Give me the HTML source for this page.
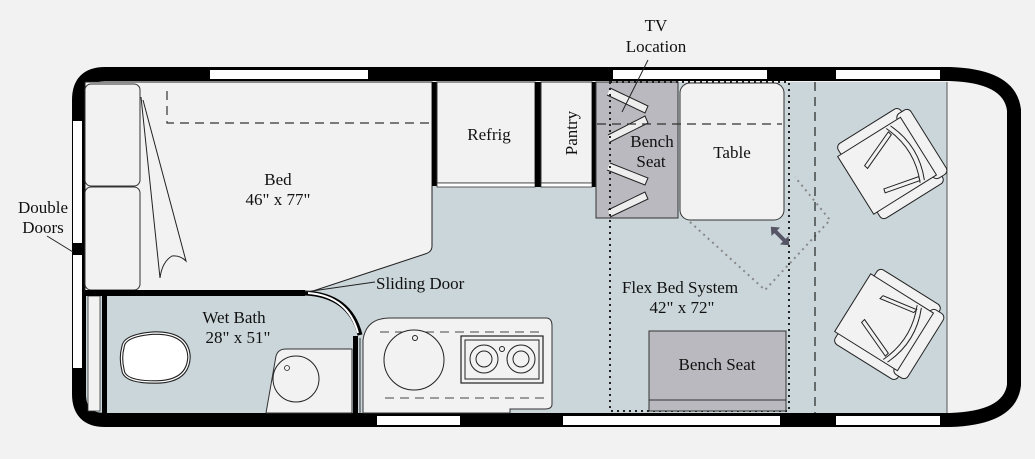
<!DOCTYPE html>
<html><head><meta charset="utf-8"><style>
html,body{margin:0;padding:0;background:#f2f2f2;}
svg{display:block}
text{font-family:"Liberation Serif",serif;font-size:17px;fill:#111;}
</style></head><body>
<svg width="1035" height="459" viewBox="0 0 1035 459" xmlns="http://www.w3.org/2000/svg">
<rect width="1035" height="459" fill="#f2f2f2"/>
<rect x="85" y="82" width="862" height="331" fill="#cbd6da"/>
<rect x="947" y="82" width="60" height="331" fill="#f2f2f2"/>
<line x1="947" y1="82" x2="947" y2="413" stroke="#555" stroke-width="1"/>
<path d="M105,74 L950,74 Q1010,76 1014,110 L1014,385 Q1010,418 950,420 L105,420 Q79,420 79,394 L79,100 Q79,74 105,74 Z" fill="none" stroke="#000" stroke-width="14"/>
<g fill="#fff">
<rect x="210" y="70" width="158" height="9"/>
<rect x="613" y="70" width="154" height="9"/>
<rect x="836" y="70" width="104" height="9"/>
<rect x="377" y="416" width="83" height="9"/>
<rect x="563" y="416" width="217" height="9"/>
<rect x="836" y="416" width="104" height="9"/>
<rect x="73" y="121" width="9" height="122"/>
<rect x="73" y="255" width="9" height="113"/>
</g>
<path d="M85,82 L432,82 L432,246 Q432,252 425,254 L310,292 L85,292 Z" fill="#f2f2f2" stroke="#222" stroke-width="1"/>
<rect x="85" y="84" width="55" height="102" rx="6" fill="#f2f2f2" stroke="#333" stroke-width="1"/>
<rect x="85" y="187" width="55" height="103" rx="6" fill="#f2f2f2" stroke="#333" stroke-width="1"/>
<path d="M167,91 L167,123 L432,123" fill="none" stroke="#333" stroke-width="1.2" stroke-dasharray="9,6"/>
<path d="M141,97 L160,278 Q162,262 172,256 Q180,255 186,261 L143,100" fill="#f2f2f2" stroke="#222" stroke-width="1"/>
<rect x="432" y="82" width="5" height="104" fill="#000"/>
<rect x="437" y="82" width="98" height="101" fill="#f2f2f2" stroke="#333" stroke-width="1"/>
<rect x="437" y="183" width="98" height="4" fill="#fff" stroke="#333" stroke-width="0.8"/>
<rect x="535" y="82" width="6" height="105" fill="#000"/>
<rect x="541" y="82" width="51" height="101" fill="#f2f2f2" stroke="#333" stroke-width="1"/>
<rect x="541" y="183" width="51" height="4" fill="#fff" stroke="#333" stroke-width="0.8"/>
<rect x="592" y="82" width="5" height="105" fill="#000"/>
<rect x="596" y="82" width="82" height="136" fill="#b9b9bf" stroke="#333" stroke-width="1"/>
<g stroke="#222" stroke-width="1" fill="#eee">
<path d="M610,88 L648,106 L645,113 L607,95" /><path d="M608,135 L645,116 L648,123 L610,142"/>
<path d="M610,163 L648,178 L645,185 L607,170"/><path d="M608,210 L645,192 L648,199 L610,217"/>
</g>
<rect x="680" y="83" width="104" height="137" rx="10" fill="#f2f2f2" stroke="#333" stroke-width="1"/>
<line x1="597" y1="124" x2="782" y2="124" stroke="#333" stroke-width="1.2" stroke-dasharray="9,6"/>
<line x1="648" y1="60" x2="622" y2="112" stroke="#222" stroke-width="1"/>
<rect x="610" y="82" width="179" height="329" fill="none" stroke="#222" stroke-width="2" stroke-dasharray="2,4"/>
<polyline points="690,222 765,290 830,220 795,177" fill="none" stroke="#888" stroke-width="2" stroke-dasharray="2,4"/>
<line x1="815" y1="82" x2="815" y2="413" stroke="#222" stroke-width="1.2" stroke-dasharray="9,6"/>
<g transform="translate(780,236) rotate(45)">
<path d="M-13,0 L-6,-6 L-6,-2 L6,-2 L6,-6 L13,0 L6,6 L6,2 L-6,2 L-6,6 Z" fill="#556"/>
</g>
<rect x="649" y="331" width="137" height="80" fill="#b9b9bf" stroke="#333" stroke-width="1"/>
<line x1="649" y1="400" x2="786" y2="400" stroke="#333" stroke-width="1"/>
<rect x="88" y="296" width="12" height="115" fill="#f2f2f2" stroke="#333" stroke-width="0.8"/>
<rect x="102" y="293" width="5" height="120" fill="#000"/>
<path d="M85,293 L305,293" stroke="#000" stroke-width="6"/>
<path d="M305,293 Q350,295 360,335" fill="none" stroke="#000" stroke-width="5"/>
<path d="M308,293 Q348,296 358,333" fill="none" stroke="#fff" stroke-width="2"/>
<rect x="353" y="336" width="5" height="77" fill="#000"/>
<line x1="360" y1="338" x2="360" y2="413" stroke="#333" stroke-width="1"/>
<line x1="305" y1="292" x2="375" y2="282" stroke="#222" stroke-width="1"/>
<path d="M266,413 L276,356 Q278,349 286,349 L352,349 L352,413 Z" fill="#f2f2f2" stroke="#333" stroke-width="1"/>
<circle cx="296" cy="379" r="23" fill="#f2f2f2" stroke="#222" stroke-width="1"/>
<circle cx="287" cy="368" r="2.5" fill="none" stroke="#222" stroke-width="0.8"/>
<path d="M123,347 Q124,335 155,333 Q188,333 189,357 Q188,382 155,382 Q124,382 123,370 Q120,358 123,347 Z" fill="#fff" stroke="#222" stroke-width="3.5"/>
<path d="M123,347 Q124,335 155,333 Q188,333 189,357 Q188,382 155,382 Q124,382 123,370 Q120,358 123,347 Z" fill="none" stroke="#fff" stroke-width="1.3"/>
<path d="M363,413 L363,340 Q366,318 390,318 L546,318 Q552,318 552,326 L552,404 Q552,409 545,409 L510,409 L510,413 Z" fill="#f2f2f2" stroke="#333" stroke-width="1"/>
<line x1="380" y1="332" x2="545" y2="332" stroke="#444" stroke-width="1" stroke-dasharray="9,6"/>
<line x1="385" y1="398" x2="545" y2="398" stroke="#444" stroke-width="1" stroke-dasharray="9,6"/>
<circle cx="414" cy="360" r="30" fill="#f2f2f2" stroke="#222" stroke-width="1"/>
<circle cx="415" cy="338" r="2.5" fill="none" stroke="#222"/>
<rect x="461" y="336" width="82" height="47" fill="#f2f2f2" stroke="#222" stroke-width="1.2"/>
<rect x="465" y="340" width="74" height="39" fill="none" stroke="#222" stroke-width="1"/>
<circle cx="484" cy="359" r="14" fill="none" stroke="#222"/><circle cx="484" cy="359" r="8" fill="none" stroke="#222"/>
<circle cx="521" cy="359" r="14" fill="none" stroke="#222"/><circle cx="521" cy="359" r="8" fill="none" stroke="#222"/>
<circle cx="502" cy="349" r="2.5" fill="none" stroke="#222"/>
<g transform="translate(893,162) rotate(-32)" stroke="#222" stroke-width="1" fill="#f2f2f2">
<rect x="-40" y="-44" width="74" height="14" rx="5"/>
<rect x="-40" y="30" width="74" height="14" rx="5"/>
<rect x="26" y="-38" width="16" height="76" rx="5"/>
<rect x="-44" y="-34" width="74" height="68"/>
<path d="M12,-32 Q26,0 12,32 M17,-32 Q31,0 17,32" fill="none"/>
<path d="M-26,-12 L12,-28 L13,-24 L-25,-8 Z"/>
<path d="M-22,18 L14,26 L13,30 L-23,22 Z"/>
</g>
<g transform="translate(890,326) rotate(32)" stroke="#222" stroke-width="1" fill="#f2f2f2">
<rect x="-40" y="-44" width="74" height="14" rx="5"/>
<rect x="-40" y="30" width="74" height="14" rx="5"/>
<rect x="26" y="-38" width="16" height="76" rx="5"/>
<rect x="-44" y="-34" width="74" height="68"/>
<path d="M12,-32 Q26,0 12,32 M17,-32 Q31,0 17,32" fill="none"/>
<path d="M-22,-22 L14,-28 L13,-24 L-23,-18 Z"/>
<path d="M-26,12 L12,28 L13,24 L-25,8 Z"/>
</g>
<line x1="47" y1="236" x2="73" y2="252" stroke="#222" stroke-width="1"/>
<g text-anchor="middle">
<text x="656" y="31">TV</text>
<text x="656" y="52">Location</text>
<text x="278" y="185">Bed</text>
<text x="278" y="205">46" x 77"</text>
<text x="43" y="213">Double</text>
<text x="43" y="233">Doors</text>
<text x="489" y="140">Refrig</text>
<text x="573" y="133" transform="rotate(-90 573 133)" dominant-baseline="middle">Pantry</text>
<text x="652" y="147">Bench</text>
<text x="651" y="167">Seat</text>
<text x="732" y="158">Table</text>
<text x="234" y="323">Wet Bath</text>
<text x="238" y="343">28" x 51"</text>
<text x="680" y="293">Flex Bed System</text>
<text x="682" y="313">42" x 72"</text>
<text x="717" y="370">Bench Seat</text>
</g>
<text x="376" y="289">Sliding Door</text>
</svg>
</body></html>
